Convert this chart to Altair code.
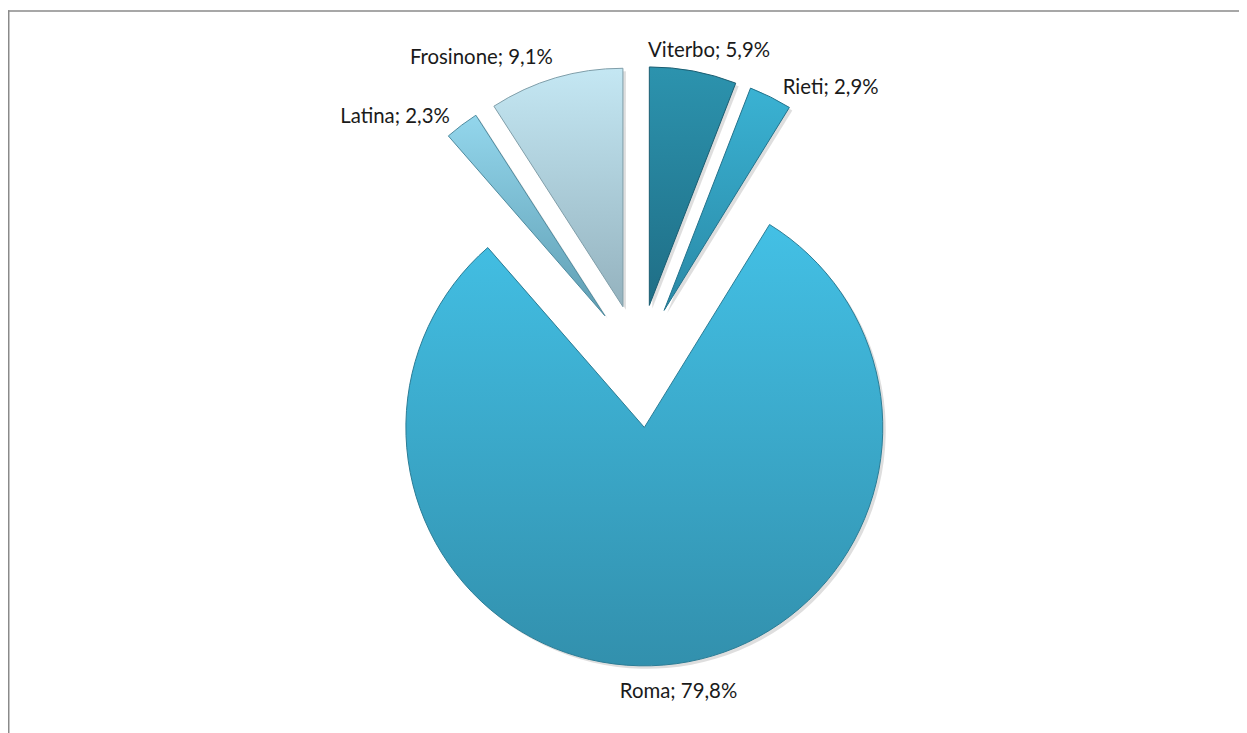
import altair as alt
import pandas as pd

# ---- data ----
provinces = ["Viterbo", "Rieti", "Roma", "Latina", "Frosinone"]
shares = [5.9, 2.9, 79.8, 2.3, 9.1]
slice_order = [1, 2, 3, 4, 5]

# ---- styles ----
top_colors = {"Viterbo": "#2C93AE", "Rieti": "#3AB2D3", "Roma": "#43C0E5",
              "Latina": "#93D6EC", "Frosinone": "#C4E7F3"}
bottom_colors = {"Viterbo": "#1F6E86", "Rieti": "#2A89A6", "Roma": "#3290AD",
                 "Latina": "#5F9EB3", "Frosinone": "#94B2BE"}
stroke_colors = {"Viterbo": "#1A5D71", "Rieti": "#22728B", "Roma": "#2A7C95",
                 "Latina": "#4F8A9E", "Frosinone": "#7F9DA8"}

W, H = 1239, 725
CX, CY = 635, 353      # pie centre (px)
R = 240                # radius (px)
GAP = 10               # label gap
FONT = "Lato"

df = pd.DataFrame({"province": provinces, "share": shares, "idx": slice_order})

base = (
    alt.Chart(df)
    .transform_window(cum="sum(share)", sort=[alt.SortField("idx")], frame=[None, 0])
    .transform_joinaggregate(total="sum(share)")
    .transform_calculate(t0="(datum.cum - datum.share) / datum.total * 2 * PI")
    .transform_calculate(t1="datum.cum / datum.total * 2 * PI")
    .transform_calculate(mid="(datum.t0 + datum.t1) / 2")
    .transform_calculate(explode="datum.province === 'Roma' ? 67 : 57")
    .transform_calculate(sx="sin(datum.mid)")
    .transform_calculate(sy="-cos(datum.mid)")
    .transform_calculate(px=f"{CX} + datum.explode * datum.sx")
    .transform_calculate(py=f"{CY} + datum.explode * datum.sy")
    .transform_calculate(lx=f"datum.px + {R + GAP} * datum.sx")
    .transform_calculate(ly=f"datum.py + {R + GAP} * datum.sy")
    .transform_calculate(
        label="datum.province + '; ' + replace(format(datum.share, '.1f'), '.', ',') + '%'"
    )
    .transform_calculate(
        halign="abs(datum.sx) < 0.2 ? 'center' : (datum.sx > 0 ? 'left' : 'right')"
    )
    .transform_calculate(
        valign="datum.sy < -0.9 ? 'bottom' : (datum.sy > 0.9 ? 'top' : 'middle')"
    )
)

arc_enc = dict(
    x=alt.X("px:Q", scale=None, axis=None),
    y=alt.Y("py:Q", scale=None, axis=None),
    theta=alt.Theta("t0:Q", scale=None),
    theta2=alt.Theta2("t1:Q"),
)

layers = []

# soft shadow
shadow = (
    base.transform_calculate(spx="datum.px + 3", spy="datum.py + 3")
    .mark_arc(outerRadius=R, fill="#000000", fillOpacity=0.13, stroke=None)
    .encode(
        x=alt.X("spx:Q", scale=None, axis=None),
        y=alt.Y("spy:Q", scale=None, axis=None),
        theta=alt.Theta("t0:Q", scale=None),
        theta2=alt.Theta2("t1:Q"),
    )
)
layers.append(shadow)

for p in provinces:
    grad = alt.Gradient(
        gradient="linear",
        stops=[alt.GradientStop(color=top_colors[p], offset=0),
               alt.GradientStop(color=bottom_colors[p], offset=1)],
        x1=0, x2=0, y1=0, y2=1,
    )
    layers.append(
        base.transform_filter(alt.datum.province == p)
        .mark_arc(outerRadius=R, fill=grad, stroke=stroke_colors[p], strokeWidth=1)
        .encode(**arc_enc)
    )

# labels
dx_map = {("center", "bottom"): 14, ("center", "top"): 14,
          ("left", "middle"): 8, ("right", "middle"): -6}
dy_map = {("center", "top"): 7}
for ha in ["center", "left", "right"]:
    for va in ["bottom", "middle", "top"]:
        layers.append(
            base.transform_filter(
                f"datum.halign === '{ha}' && datum.valign === '{va}'"
            )
            .mark_text(
                align=ha, baseline=va, font=FONT, fontSize=20.5, color="#1a1a1a",
                dx=dx_map.get((ha, va), 0), dy=dy_map.get((ha, va), 0),
            )
            .encode(
                x=alt.X("lx:Q", scale=None, axis=None),
                y=alt.Y("ly:Q", scale=None, axis=None),
                text="label:N",
            )
        )

# chart frame (top and left edges visible)
frame_df = alt.Chart(pd.DataFrame({"k": [0]}))
layers.append(
    frame_df.mark_rule(color="#8a8a8a", strokeWidth=1.5).encode(
        x=alt.value(0), x2=alt.value(W + 10), y=alt.value(0.75)
    )
)
layers.append(
    frame_df.mark_rule(color="#8a8a8a", strokeWidth=1.5).encode(
        x=alt.value(0.75), y=alt.value(0), y2=alt.value(H + 10)
    )
)

chart = (
    alt.layer(*layers)
    .properties(width=W, height=H, padding=0, autosize="none", background="white")
    .configure_view(stroke=None)
)

chart.save("out.html", embed_options={"renderer": "svg", "actions": False})
